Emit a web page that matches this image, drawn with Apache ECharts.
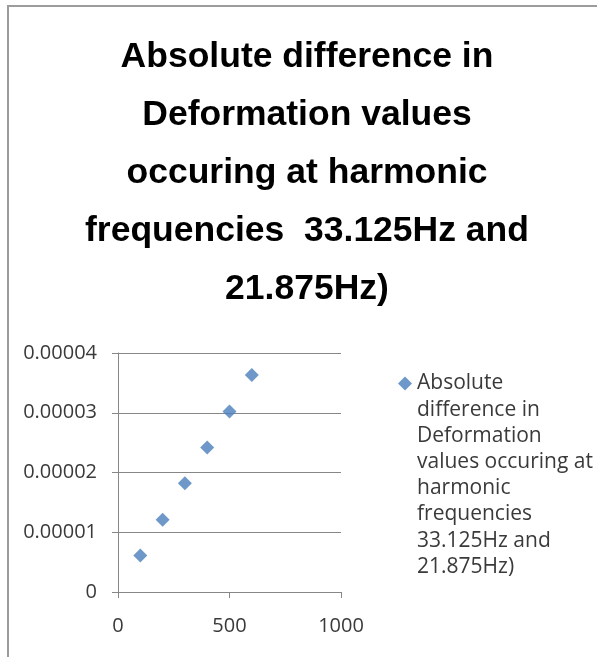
<!DOCTYPE html>
<html>
<head>
<meta charset="utf-8">
<script src="https://cdn.jsdelivr.net/npm/echarts@6/dist/echarts.min.js"></script>
<style>
html,body{margin:0;padding:0;background:#fff;}
#chart{width:597px;height:657px;}
</style>
</head>
<body>
<div id="chart"></div>
<script>
const titleLines = ["Absolute difference in", "Deformation values", "occuring at harmonic", "frequencies  33.125Hz and", "21.875Hz)"];
const seriesName = "Absolute difference in Deformation values occuring at harmonic frequencies  33.125Hz and 21.875Hz)";
const legendLines = ["Absolute", "difference in", "Deformation", "values occuring at", "harmonic", "frequencies", "33.125Hz and", "21.875Hz)"];
const xValues = [100, 200, 300, 400, 500, 600];
const yValues = [0.0000061, 0.0000121, 0.0000182, 0.0000242, 0.0000302, 0.0000363];
const xTicks = [0, 500, 1000];
const yTicks = [0, 0.00001, 0.00002, 0.00003, 0.00004];

const chart = echarts.init(document.getElementById('chart'), null, {renderer: 'canvas'});
const axisColor = '#878787';
const labelColor = '#3a3a3a';
const lf = '"Open Sans", "Liberation Sans", sans-serif';

// blank lines above keep the first legend line level with the legend marker
const legendText = new Array(legendLines.length).join('\n') + legendLines.join('\n');

chart.setOption({
  backgroundColor: '#ffffff',
  animation: false,
  graphic: [{
    type: 'rect',
    shape: {x: 8, y: 6, width: 700, height: 700},
    style: {fill: 'none', stroke: '#9c9c9c', lineWidth: 2},
    silent: true
  }],
  title: {
    text: titleLines.join('\n'),
    left: 307,
    top: 28,
    padding: 0,
    textAlign: 'center',
    textStyle: {
      fontFamily: '"Liberation Sans", Arial, sans-serif',
      fontWeight: 'bold',
      fontSize: 35.5,
      lineHeight: 58,
      color: '#000000'
    }
  },
  legend: {
    left: 398,
    top: 187,
    padding: 0,
    icon: 'diamond',
    itemWidth: 14,
    itemHeight: 14,
    itemGap: 0,
    selectedMode: false,
    formatter: function () { return legendText; },
    textStyle: {
      fontFamily: lf,
      fontSize: 21,
      lineHeight: 26.2,
      color: labelColor
    },
    data: [seriesName]
  },
  grid: {left: 118, right: 256, top: 353, bottom: 65, containLabel: false},
  xAxis: {
    type: 'value',
    min: xTicks[0],
    max: xTicks[xTicks.length - 1],
    interval: xTicks[1] - xTicks[0],
    axisLine: {show: true, onZero: false, lineStyle: {color: axisColor, width: 1}},
    axisTick: {show: true, inside: false, length: 6, lineStyle: {color: axisColor}},
    splitLine: {show: false},
    axisLabel: {
      margin: 24,
      fontFamily: lf,
      fontSize: 20,
      color: labelColor,
      formatter: function (v) { return String(v); }
    }
  },
  yAxis: {
    type: 'value',
    min: yTicks[0],
    max: yTicks[yTicks.length - 1],
    interval: yTicks[1] - yTicks[0],
    axisLine: {show: true, onZero: false, lineStyle: {color: axisColor, width: 1}},
    axisTick: {show: true, inside: false, length: 6, lineStyle: {color: axisColor}},
    splitLine: {show: true, lineStyle: {color: axisColor, width: 1}},
    axisLabel: {
      margin: 21,
      fontFamily: lf,
      fontSize: 20,
      color: labelColor,
      formatter: function (v) { return v === 0 ? '0' : v.toFixed(5); }
    }
  },
  series: [{
    name: seriesName,
    type: 'scatter',
    symbol: 'diamond',
    symbolSize: 14,
    itemStyle: {color: '#4a7ebb'},
    data: xValues.map(function (x, i) { return [x, yValues[i]]; })
  }]
});
</script>
</body>
</html>
